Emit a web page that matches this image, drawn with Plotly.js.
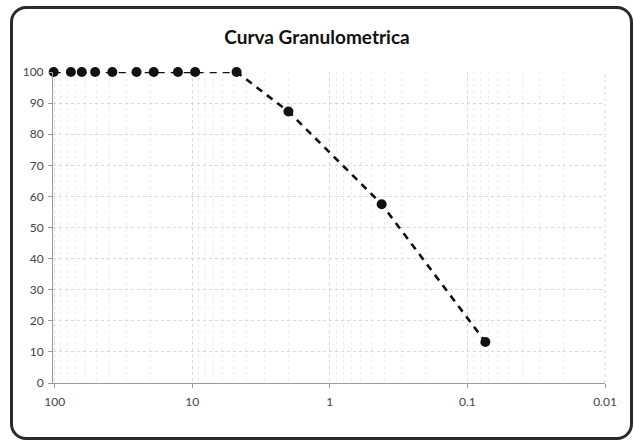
<!DOCTYPE html>
<html>
<head>
<meta charset="utf-8">
<script src="https://cdn.plot.ly/plotly-3.0.1.min.js"></script>
<style>
  html, body { margin: 0; padding: 0; background: #ffffff; }
  #wrap { position: relative; width: 634px; height: 442px; overflow: hidden; }
  #chart { width: 634px; height: 442px; }
  #frame { position: absolute; left: 10px; top: 6px; width: 617px; height: 428px;
           border: 3px solid #2a2a2a; border-radius: 16px; pointer-events: none; }
</style>
</head>
<body>
<div id="wrap">
  <div id="chart"></div>
  <div id="frame"></div>
</div>
<script>
// Sieve opening (mm) and percent passing
const sieveSizes = [101.6, 76.2, 63.5, 50.8, 38.1, 25.4, 19.05, 12.7, 9.525, 4.76, 2.0, 0.42, 0.074];
const percentPassing = [100, 100, 100, 100, 100, 100, 100, 100, 100, 100, 87.3, 57.5, 13.2];

const xTickVals = [100, 10, 1, 0.1, 0.01];
const xTickText = ['100', '10', '1', '0.1', '0.01'];
const yTickVals = [0, 10, 20, 30, 40, 50, 60, 70, 80, 90, 100];

const trace = {
  x: sieveSizes,
  y: percentPassing,
  type: 'scatter',
  mode: 'lines+markers',
  line: { color: '#111111', width: 2.6, dash: '7px,6px' },
  marker: { color: '#111111', size: 10 },
  cliponaxis: false,
  hoverinfo: 'x+y'
};

const layout = {
  width: 634,
  height: 442,
  margin: { l: 53, r: 29, t: 72, b: 59 },
  paper_bgcolor: '#ffffff',
  plot_bgcolor: '#ffffff',
  showlegend: false,
  title: {
    text: 'Curva Granulometrica',
    font: { family: 'Lato, "Open Sans", sans-serif', size: 19, color: '#111111', weight: 'bold' },
    x: 0.5, xanchor: 'center',
    y: 0.915, yanchor: 'middle'
  },
  xaxis: {
    type: 'log',
    range: [2.012, -2],
    tickvals: xTickVals,
    ticktext: xTickText,
    ticks: 'outside',
    ticklen: 4,
    tickcolor: '#999999',
    tickfont: { family: 'Lato, "Open Sans", sans-serif', size: 12, color: '#444444' },
    ticklabelstandoff: 4,
    showline: true,
    linecolor: '#9a9a9a',
    linewidth: 1,
    showgrid: true,
    gridcolor: '#d8d8d8',
    griddash: 'dot',
    gridwidth: 1,
    minor: { dtick: 'D1', showgrid: true, gridcolor: '#ececec', griddash: 'dot', gridwidth: 1, ticks: '' },
    zeroline: false
  },
  yaxis: {
    range: [0, 100],
    tickvals: yTickVals,
    ticks: 'outside',
    ticklen: 4,
    tickcolor: '#999999',
    tickfont: { family: 'Lato, "Open Sans", sans-serif', size: 12, color: '#444444' },
    ticklabelstandoff: 2,
    showline: true,
    linecolor: '#9a9a9a',
    linewidth: 1,
    showgrid: true,
    gridcolor: '#d8d8d8',
    griddash: 'dot',
    gridwidth: 1,
    zeroline: false
  },
  shapes: [
    { type: 'line', xref: 'paper', yref: 'paper', x0: 1, x1: 1, y0: 0, y1: 1,
      line: { color: '#d8d8d8', width: 1, dash: 'dot' } }
  ]
};

Plotly.newPlot('chart', [trace], layout, { displayModeBar: false, staticPlot: true });
</script>
</body>
</html>
